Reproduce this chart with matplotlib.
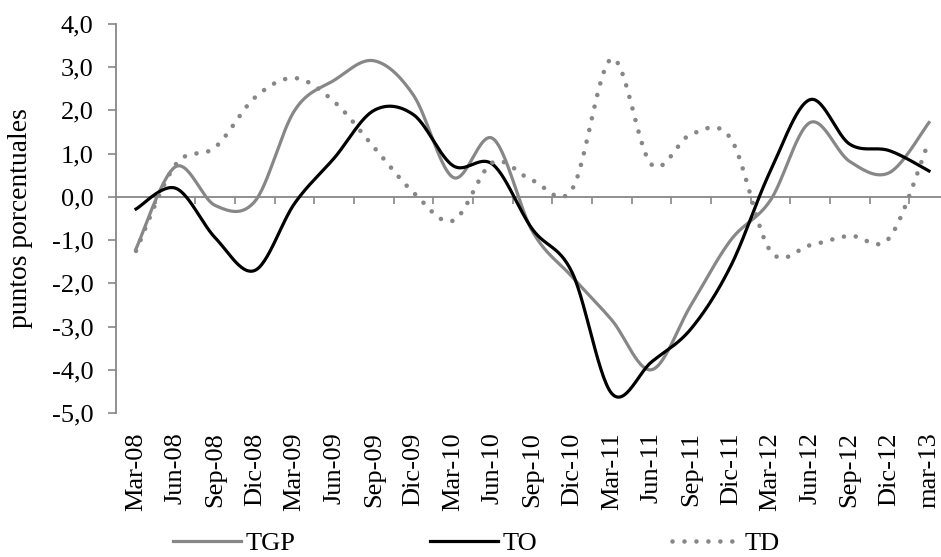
import numpy as np
import matplotlib.pyplot as plt
from matplotlib.lines import Line2D

plt.rcParams['font.family'] = ['Liberation Serif', 'DejaVu Serif']

cats = ['Mar-08', 'Jun-08', 'Sep-08', 'Dic-08', 'Mar-09', 'Jun-09', 'Sep-09',
        'Dic-09', 'Mar-10', 'Jun-10', 'Sep-10', 'Dic-10', 'Mar-11', 'Jun-11',
        'Sep-11', 'Dic-11', 'Mar-12', 'Jun-12', 'Sep-12', 'Dic-12', 'mar-13']
tgp = [-1.2, 0.7, -0.2, -0.1, 2.0, 2.7, 3.15, 2.35, 0.45, 1.35, -0.8,
       -1.85, -2.85, -4.0, -2.5, -1.0, -0.08, 1.72, 0.82, 0.56, 1.72]
to = [-0.28, 0.2, -0.95, -1.7, -0.15, 0.9, 2.0, 1.9, 0.72, 0.75, -0.75,
      -1.75, -4.55, -3.82, -3.05, -1.6, 0.6, 2.25, 1.22, 1.07, 0.6]
td = [-1.25, 0.75, 1.15, 2.3, 2.75, 2.2, 1.15, 0.1, -0.55, 0.8, 0.38,
      0.18, 3.2, 0.75, 1.45, 1.35, -1.25, -1.12, -0.9, -0.95, 1.3]

GRAY = '#878787'
FS = 19


def smooth(y, n=30):
    # Excel-style smoothed line (Catmull-Rom as cubic Bezier)
    p = np.column_stack([np.arange(len(y)), y]).astype(float)
    out = []
    t = np.linspace(0, 1, n)[:, None]
    for i in range(len(p) - 1):
        p0, p1 = p[max(i - 1, 0)], p[i]
        p2, p3 = p[i + 1], p[min(i + 2, len(p) - 1)]
        c1 = p1 + (p2 - p0) / 6
        c2 = p2 - (p3 - p1) / 6
        seg = ((1 - t) ** 3) * p1 + 3 * ((1 - t) ** 2) * t * c1 \
            + 3 * (1 - t) * t ** 2 * c2 + t ** 3 * p2
        out.append(seg if i == 0 else seg[1:])
    out = np.vstack(out)
    return out[:, 0], out[:, 1]


fig = plt.figure(figsize=(9.41, 5.57), dpi=100)
ax = fig.add_axes([116.2 / 941, 1 - 413 / 557, (948.8 - 116.2) / 941, (413 - 24) / 557])

lw = 2.3
x, y = smooth(tgp)
ax.plot(x, y, color=GRAY, lw=lw, zorder=3)
x, y = smooth(to)
ax.plot(x, y, color='black', lw=lw, zorder=3)
x, y = smooth(td)
ax.plot(x, y, color=GRAY, lw=3.3, dashes=(0.01, 2.6), dash_capstyle='round', zorder=3)

ax.set_xlim(-0.5, len(cats) - 0.5)
ax.set_ylim(-5, 4)
ax.set_yticks(np.arange(-5, 5, 1))
ax.set_yticklabels([f'{v:.1f}'.replace('.', ',') for v in np.arange(-5, 5, 1)], fontsize=FS)
ax.tick_params(axis='y', direction='out', length=5.5, width=1.2, color=GRAY, pad=11)

for s in ['top', 'right']:
    ax.spines[s].set_visible(False)
ax.spines['left'].set_color(GRAY)
ax.spines['left'].set_linewidth(1.3)
ax.spines['bottom'].set_position(('data', 0))
ax.spines['bottom'].set_color(GRAY)
ax.spines['bottom'].set_linewidth(1.3)
ax.set_xticks(np.arange(0.5, len(cats), 1))
ax.set_xticklabels([])
ax.tick_params(axis='x', direction='out', length=5, width=1.2, color=GRAY)

sec = ax.secondary_xaxis('bottom')
sec.set_xticks(np.arange(len(cats)))
sec.set_xticklabels(cats, rotation=90, fontsize=FS)
sec.spines['bottom'].set_visible(False)
sec.tick_params(length=0, pad=14)

ax.set_ylabel('puntos porcentuales', fontsize=19.8)
ax.yaxis.set_label_coords(-0.1, 0.5)

handles = [Line2D([], [], color=GRAY, lw=lw),
           Line2D([], [], color='black', lw=lw),
           Line2D([], [], color=GRAY, lw=3.3, dashes=(0.01, 2.6), dash_capstyle='round')]
fig.legend(handles, ['TGP', 'TO', 'TD'], loc='center', ncol=3, frameon=False,
           bbox_to_anchor=(476 / 941, 1 - 543 / 557), fontsize=FS,
           handlelength=2.6, handletextpad=0.15, columnspacing=5.1)

fig.savefig('out.png', dpi=100)
